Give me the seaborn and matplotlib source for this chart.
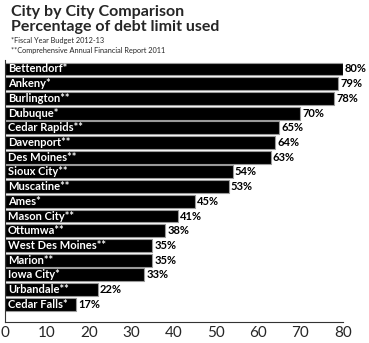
import matplotlib
matplotlib.use("Agg")
import matplotlib.pyplot as plt
import seaborn as sns
import pandas as pd

cities = ["Bettendorf*", "Ankeny*", "Burlington**", "Dubuque*", "Cedar Rapids**",
          "Davenport**", "Des Moines**", "Sioux City**", "Muscatine**", "Ames*",
          "Mason City**", "Ottumwa**", "West Des Moines**", "Marion**", "Iowa City*",
          "Urbandale**", "Cedar Falls*"]
pct = [80, 79, 78, 70, 65, 64, 63, 54, 53, 45, 41, 38, 35, 35, 33, 22, 17]
xticks = [0, 10, 20, 30, 40, 50, 60, 70, 80]

title1 = "City by City Comparison"
title2 = "Percentage of debt limit used"
note1 = "*Fiscal Year Budget 2012-13"
note2 = "**Comprehensive Annual Financial Report 2011"

sns.set_style("white")
FONT = "Lato"
plt.rcParams['font.family'] = [FONT, 'DejaVu Sans']

df = pd.DataFrame({"city": cities, "pct": pct})

fig = plt.figure(figsize=(3.69, 3.43), dpi=100)
ax = fig.add_axes([0.0122, 0.062, 0.9165, 0.763])

sns.barplot(data=df, y="city", x="pct", orient="h", color="black",
            width=0.88, edgecolor="#9a9a9a", linewidth=0.8, ax=ax, saturation=1)

n = len(cities)
ax.set_ylim(n - 1 + 1.19, -0.61)
ax.set_xlim(0, 80)
ax.set_xticks(xticks)
ax.set_xticklabels([str(t) for t in xticks], fontsize=11)
ax.set_yticks([])
ax.set_xlabel("")
ax.set_ylabel("")
for s in ["top", "right"]:
    ax.spines[s].set_visible(False)
ax.spines["left"].set_color("#333333")
ax.spines["bottom"].set_color("#333333")
ax.spines["left"].set_linewidth(0.8)
ax.spines["bottom"].set_linewidth(0.8)
ax.tick_params(axis="x", direction="in", length=5, width=0.8, color="#333333", pad=3)

for i, (c, v) in enumerate(zip(cities, pct)):
    ax.text(0.8, i, c, color="white", fontsize=8, fontweight="bold",
            va="center", ha="left")
    ax.text(v + 0.5, i, f"{v}%", color="black", fontsize=8, fontweight="bold",
            va="center", ha="left")

fig.text(11/369, 1 - 12/343, title1, fontsize=11.5, fontweight="bold", va="center", ha="left")
fig.text(11/369, 1 - 27/343, title2, fontsize=11.5, fontweight="bold", va="center", ha="left")
fig.text(11/369, 1 - 40/343, note1, fontsize=5.3, va="center", ha="left")
fig.text(11/369, 1 - 51/343, note2, fontsize=5.3, va="center", ha="left")

fig.savefig("out.png", dpi=100)
